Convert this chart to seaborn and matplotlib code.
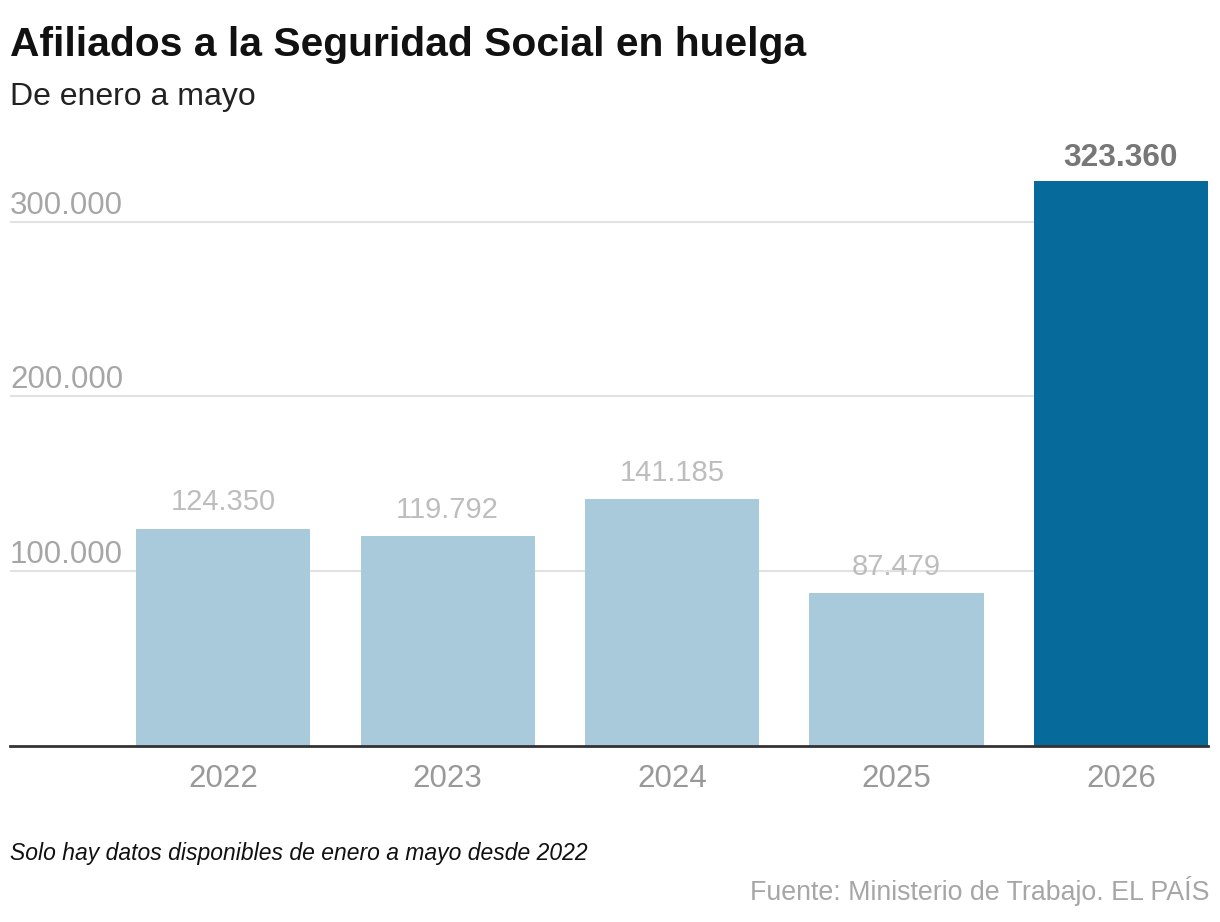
import matplotlib
matplotlib.use("Agg")
import matplotlib.pyplot as plt
import seaborn as sns
import pandas as pd

# datos
years = ["2022", "2023", "2024", "2025", "2026"]
afiliados = [124350, 119792, 141185, 87479, 323360]
value_labels = ["124.350", "119.792", "141.185", "87.479", "323.360"]
y_ticks = [100000, 200000, 300000]
y_tick_labels = ["100.000", "200.000", "300.000"]
highlight = "2026"

title = "Afiliados a la Seguridad Social en huelga"
subtitle = "De enero a mayo"
note = "Solo hay datos disponibles de enero a mayo desde 2022"
source = "Fuente: Ministerio de Trabajo. EL PAÍS"

light_blue = "#a8cadb"
dark_blue = "#066a9b"

sns.set_style("white")
plt.rcParams["font.family"] = ["Liberation Sans", "DejaVu Sans"]

df = pd.DataFrame({"year": years, "value": afiliados})
colors = [dark_blue if y == highlight else light_blue for y in years]

fig = plt.figure(figsize=(12.2, 9.22), dpi=100)
ax = fig.add_axes([10 / 1220, 176.5 / 922, 1198 / 1220, 340000 * 1.745e-3 / 922])

sns.barplot(data=df, x="year", y="value", hue="year", palette=colors,
            legend=False, width=0.776, saturation=1, linewidth=0, ax=ax)

ax.set_xlim(-0.95, 4.388)
ax.set_ylim(0, 340000)
ax.set_xlabel("")
ax.set_ylabel("")

# rejilla
ax.set_yticks(y_ticks)
ax.set_yticklabels([])
ax.tick_params(axis="y", length=0)
ax.grid(axis="y", color="#e2e2e2", linewidth=1.5)
ax.set_axisbelow(True)
for s in ["top", "right", "left"]:
    ax.spines[s].set_visible(False)
ax.spines["bottom"].set_color("#333333")
ax.spines["bottom"].set_linewidth(2)

ax.tick_params(axis="x", length=0, pad=13, labelsize=22.5, labelcolor="#999999")

for v, lab in zip(y_ticks, y_tick_labels):
    ax.annotate(lab, xy=(0, v), xycoords=("axes fraction", "data"),
                xytext=(0, 6), textcoords="offset points",
                ha="left", va="baseline", fontsize=22.5, color="#a6a6a6")

for i, (y, v, lab) in enumerate(zip(years, afiliados, value_labels)):
    if y == highlight:
        ax.annotate(lab, xy=(i, v), xytext=(0, 11), textcoords="offset points",
                    ha="center", va="baseline", fontsize=22.8, fontweight="bold",
                    color="#777777")
    else:
        ax.annotate(lab, xy=(i, v), xytext=(0, 13), textcoords="offset points",
                    ha="center", va="baseline", fontsize=21, color="#bdbdbd")

fig.text(10 / 1220, 1 - 56 / 922, title, fontsize=29.3, fontweight="bold",
         color="#111111", ha="left", va="baseline")
fig.text(10 / 1220, 1 - 105 / 922, subtitle, fontsize=23, color="#222222",
         ha="left", va="baseline")
fig.text(10 / 1220, 1 - 860 / 922, note, fontsize=16.5, style="italic",
         color="#111111", ha="left", va="baseline")
fig.text(1210 / 1220, 1 - 900 / 922, source, fontsize=19.3, color="#a6a6a6",
         ha="right", va="baseline")

fig.savefig("out.png", dpi=100)
